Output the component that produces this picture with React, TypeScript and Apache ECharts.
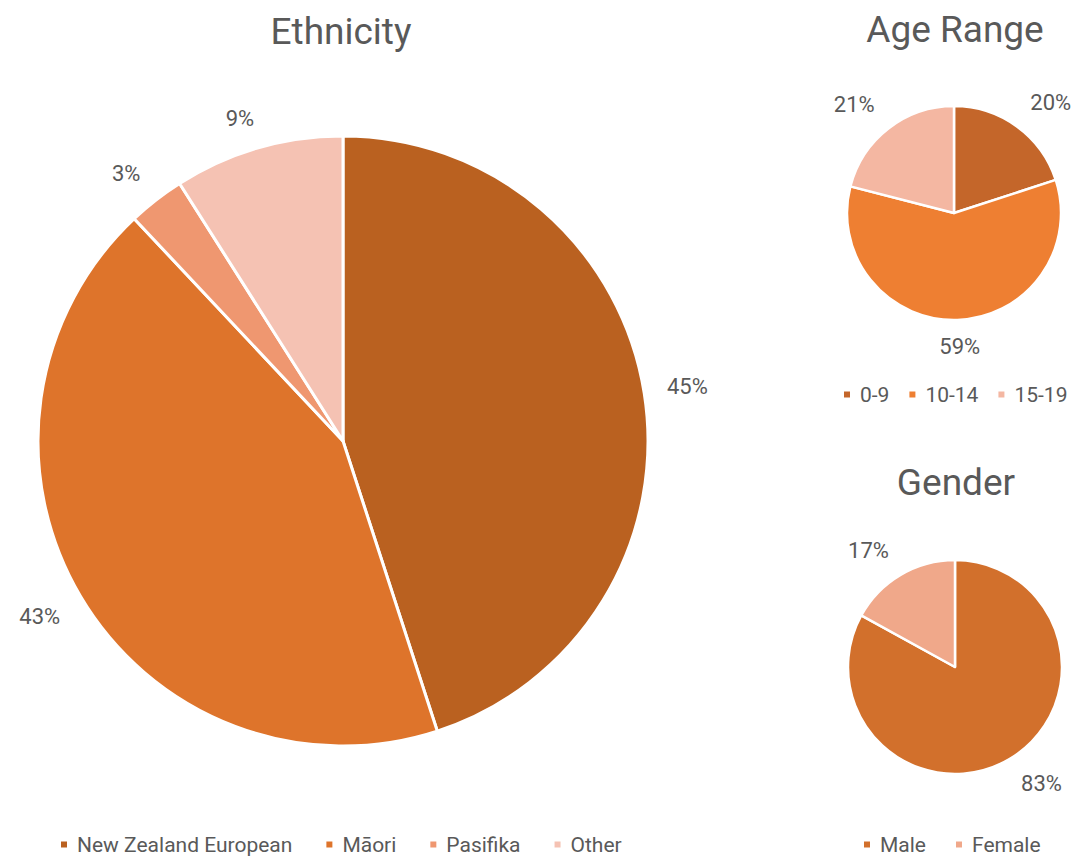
import React, { useEffect, useRef } from "react";
import * as echarts from "echarts";

const ethnicityCategories = ["New Zealand European", "Māori", "Pasifika", "Other"];
const ethnicityValues = [45, 43, 3, 9];
const ethnicityColors = ["#BA6120", "#DE742B", "#EF9770", "#F5C2B3"];

const ageCategories = ["0-9", "10-14", "15-19"];
const ageValues = [20, 59, 21];
const ageColors = ["#C4662A", "#EE7F32", "#F4B7A2"];

const genderCategories = ["Male", "Female"];
const genderValues = [83, 17];
const genderColors = ["#D2702C", "#F0A88A"];

const FONT = "Roboto, 'Noto Sans', sans-serif";
const GREY = "#595959";

// layout constants (pixels)
const pies = [
  { cx: 343, cy: 441, r: 305, gap: 19, values: ethnicityValues },
  { cx: 954, cy: 213, r: 107, gap: 16, values: ageValues },
  { cx: 955, cy: 667, r: 107, gap: 15, values: genderValues },
];

function midAngles(values: number[]): number[] {
  const total = values.reduce((a, b) => a + b, 0);
  let cum = 0;
  return values.map((v) => {
    const m = ((cum + v / 2) / total) * 2 * Math.PI;
    cum += v;
    return m;
  });
}

const clamp1 = (v: number) => Math.max(-1, Math.min(1, v));

export default function App() {
  const ref = useRef<HTMLDivElement>(null);
  useEffect(() => {
    if (!ref.current) return;
    const chart = echarts.init(ref.current, null, { renderer: "svg" });
    const mids = pies.map((p) => midAngles(p.values));

    const labelLayout = (params: any) => {
      const p = pies[params.seriesIndex];
      const a = mids[params.seriesIndex][params.dataIndex];
      const ux = Math.sin(a);
      const uy = -Math.cos(a);
      const hw = params.labelRect.width / 2 + 4;
      const hh = params.labelRect.height / 2;
      const R = p.r + p.gap;
      return {
        x: p.cx + R * ux + clamp1(2.5 * ux) * hw,
        y: p.cy + R * uy + clamp1(2 * uy) * hh,
        align: "center",
        verticalAlign: "middle",
      };
    };

    const mkSeries = (
      names: string[],
      values: number[],
      colors: string[],
      idx: number,
      borderWidth: number
    ) => ({
      type: "pie",
      center: [pies[idx].cx, pies[idx].cy],
      radius: [0, pies[idx].r],
      startAngle: 90,
      clockwise: true,
      avoidLabelOverlap: false,
      data: names.map((n, i) => ({
        name: n,
        value: values[i],
        itemStyle: { color: colors[i] },
      })),
      itemStyle: { borderColor: "#ffffff", borderWidth },
      label: {
        show: true,
        position: "outside",
        formatter: (pp: any) => Math.round(pp.percent) + "%",
        color: GREY,
        fontFamily: FONT,
        fontSize: 22,
      },
      labelLine: { show: false },
      labelLayout,
      emphasis: { disabled: true },
    });

    const legendBase = {
      orient: "horizontal",
      icon: "rect",
      itemWidth: 8,
      itemHeight: 8,
      textStyle: { color: GREY, fontFamily: FONT, fontSize: 21, padding: [0, 0, 0, 4] },
    };

    const titleStyle = { color: GREY, fontFamily: FONT, fontSize: 37, fontWeight: "normal" };

    chart.setOption({
      animation: false,
      title: [
        { text: "Ethnicity", left: 336, top: 8, textAlign: "center", textStyle: titleStyle },
        { text: "Age Range", left: 950, top: 6, textAlign: "center", textStyle: titleStyle },
        { text: "Gender", left: 951, top: 459, textAlign: "center", textStyle: titleStyle },
      ],
      legend: [
        { ...legendBase, data: ethnicityCategories, left: 54, top: 829, itemGap: 32, width: 800 },
        { ...legendBase, data: ageCategories, left: 837, top: 379, itemGap: 18, width: 400 },
        { ...legendBase, data: genderCategories, left: 857, top: 829, itemGap: 28, width: 400 },
      ],
      series: [
        mkSeries(ethnicityCategories, ethnicityValues, ethnicityColors, 0, 3),
        mkSeries(ageCategories, ageValues, ageColors, 1, 2.5),
        mkSeries(genderCategories, genderValues, genderColors, 2, 2.5),
      ],
    });
    return () => chart.dispose();
  }, []);
  return (
    <div
      ref={ref}
      style={{ position: "absolute", left: 0, top: 0, width: 1080, height: 857, background: "#fff" }}
    />
  );
}
